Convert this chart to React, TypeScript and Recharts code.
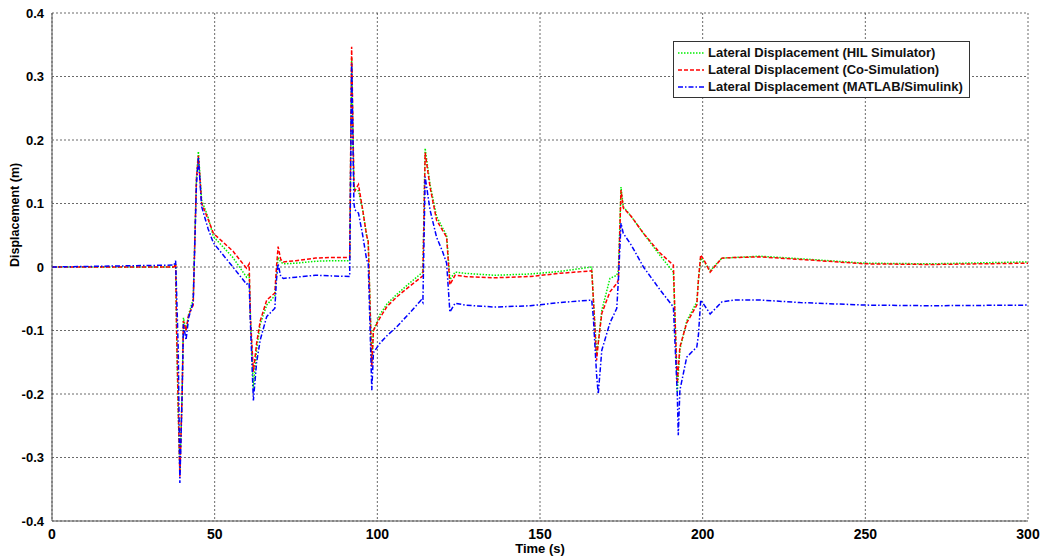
import { LineChart, Line, XAxis, YAxis, CartesianGrid } from "recharts";

// time (s)
const time = [
  0, 37.5, 38, 38.3, 38.8, 39.3, 40, 40.4, 41.2, 42, 43.4, 44.4, 45, 46, 48, 49.6, 55.6, 59.8, 60.6, 61,
  61.9, 62.9, 64, 66, 68.5, 69, 69.5, 70.3, 71.1, 75, 81, 86, 91.5, 92.1, 92.8, 93.1, 94.2, 95.5, 96.7, 97.2,
  98.3, 98.8, 100.8, 103, 106, 110, 113.5, 114, 114.7, 116.2, 118.2, 120, 121.3, 122.3, 123.9, 127, 136, 147, 156, 165.9,
  166.4, 167.4, 167.9, 169, 171.5, 173.6, 174.1, 174.9, 175.6, 178, 181.8, 186.9, 191, 191.5, 192.2, 192.5, 193, 195.1, 198.2, 198.7,
  199.4, 200.5, 202.3, 205.9, 210, 217.6, 230, 250, 270, 300,
];

// Lateral Displacement (Co-Simulation)
const coSim = [
  0, 0, 0.005, -0.1, -0.22, -0.33, -0.2, -0.085, -0.1, -0.075, -0.06, 0.14, 0.175, 0.1, 0.075, 0.053, 0.025, -0.002, 0.005, -0.08,
  -0.165, -0.12, -0.085, -0.052, -0.041, 0, 0.032, 0.012, 0.008, 0.01, 0.014, 0.015, 0.015, 0.347, 0.13, 0.12, 0.13, 0.09, 0.05, 0.04,
  -0.157, -0.1, -0.08, -0.062, -0.047, -0.03, -0.016, -0.014, 0.18, 0.126, 0.074, 0.058, 0.047, -0.028, -0.013, -0.015, -0.017, -0.015, -0.01, -0.006,
  -0.05, -0.147, -0.12, -0.073, -0.039, -0.026, -0.02, 0.121, 0.093, 0.08, 0.053, 0.022, 0.003, -0.08, -0.183, -0.16, -0.126, -0.088, -0.06, -0.02,
  0.019, 0.01, -0.008, 0.014, 0.015, 0.016, 0.012, 0.005, 0.004, 0.006,
];

// Lateral Displacement (HIL Simulator)
const hil = [
  0, 0, 0.005, -0.1, -0.23, -0.32, -0.2, -0.08, -0.1, -0.075, -0.05, 0.14, 0.182, 0.105, 0.078, 0.048, 0.015, -0.016, -0.01, -0.08,
  -0.19, -0.13, -0.09, -0.06, -0.045, -0.01, 0.015, 0.008, 0.005, 0.006, 0.009, 0.01, 0.01, 0.33, 0.13, 0.12, 0.12, 0.09, 0.05, 0.04,
  -0.15, -0.1, -0.075, -0.058, -0.043, -0.025, -0.01, -0.008, 0.187, 0.13, 0.08, 0.062, 0.05, -0.02, -0.008, -0.01, -0.013, -0.011, -0.007, 0,
  -0.05, -0.135, -0.12, -0.068, -0.018, -0.013, -0.005, 0.126, 0.095, 0.08, 0.053, 0.018, -0.008, -0.08, -0.198, -0.17, -0.13, -0.085, -0.055, -0.02,
  0.014, 0.008, -0.006, 0.014, 0.015, 0.017, 0.013, 0.006, 0.005, 0.008,
];

// Lateral Displacement (MATLAB/Simulink)
const matlab = [
  0, 0.003, 0.01, -0.04, -0.13, -0.34, -0.2, -0.09, -0.115, -0.08, -0.055, 0.13, 0.172, 0.095, 0.06, 0.038, 0, -0.027, -0.025, -0.09,
  -0.21, -0.15, -0.115, -0.078, -0.065, -0.02, 0.005, -0.015, -0.018, -0.016, -0.013, -0.014, -0.015, 0.32, 0.1, 0.09, 0.085, 0.05, 0.012, 0.005,
  -0.194, -0.135, -0.12, -0.108, -0.094, -0.072, -0.052, -0.056, 0.142, 0.09, 0.047, 0.025, 0.006, -0.071, -0.057, -0.06, -0.063, -0.061, -0.056, -0.052,
  -0.08, -0.17, -0.2, -0.131, -0.088, -0.065, -0.02, 0.069, 0.053, 0.035, 0, -0.036, -0.063, -0.12, -0.2, -0.265, -0.194, -0.142, -0.126, -0.107,
  -0.052, -0.06, -0.074, -0.055, -0.052, -0.052, -0.056, -0.06, -0.061, -0.06,
];

const xTicks = [0, 50, 100, 150, 200, 250, 300];
const yTicks = [-0.4, -0.3, -0.2, -0.1, 0, 0.1, 0.2, 0.3, 0.4];

const series = [
  { key: "hil", name: "Lateral Displacement (HIL Simulator)", color: "#00ee00", dash: "1.5 1.5" },
  { key: "coSim", name: "Lateral Displacement (Co-Simulation)", color: "#ff0000", dash: "4 2" },
  { key: "matlab", name: "Lateral Displacement (MATLAB/Simulink)", color: "#0000ff", dash: "5 2 1.5 2" },
];

const data = time.map((t, i) => ({ t, hil: hil[i], coSim: coSim[i], matlab: matlab[i] }));

const font = "'Liberation Sans', Arial, sans-serif";
const narrow = "'Liberation Sans Narrow', 'Liberation Sans', Arial, sans-serif";

function Legend() {
  return (
    <div
      style={{
        position: "absolute", left: 673, top: 41, width: 297, height: 57,
        border: "1px solid #333", background: "#fff", boxSizing: "border-box",
        fontFamily: font, fontWeight: "bold", fontSize: 13, color: "#111",
        padding: "2px 0 0 4px",
      }}
    >
      {series.map((s) => (
        <div key={s.key} style={{ display: "flex", alignItems: "center", height: 17 }}>
          <svg width={26} height={6} style={{ marginRight: 4 }}>
            <line x1={0} y1={3} x2={26} y2={3} stroke={s.color} strokeWidth={1.5} strokeDasharray={s.dash} />
          </svg>
          <span>{s.name}</span>
        </div>
      ))}
    </div>
  );
}

export default function App() {
  return (
    <div style={{ position: "absolute", left: 0, top: 0, width: 1043, height: 556, background: "#fff" }}>
      <LineChart width={1043} height={556} data={data} margin={{ top: 13, right: 15, left: 12, bottom: 15 }}>
        <CartesianGrid stroke="#444" strokeDasharray="2 2" strokeWidth={0.8} />
        <XAxis
          dataKey="t" type="number" domain={[0, 300]} ticks={xTicks} height={20}
          stroke="#555" tickLine={false} allowDataOverflow
          tick={{ fontSize: 14, fontWeight: "bold", fill: "#000", fontFamily: narrow }}
          label={{ value: "Time (s)", position: "insideBottom", offset: -12, fontSize: 13, fontWeight: "bold", fill: "#000", fontFamily: narrow }}
        />
        <XAxis xAxisId="top" dataKey="t" type="number" domain={[0, 300]} orientation="top" height={0} tick={false} tickLine={false} stroke="#555" />
        <YAxis
          type="number" domain={[-0.4, 0.4]} ticks={yTicks} width={40} stroke="#555" tickLine={false}
          allowDataOverflow
          tickFormatter={(v: number) => (Math.abs(v) < 1e-9 ? "0" : String(Math.round(v * 10) / 10))}
          tick={{ fontSize: 13, fontWeight: "bold", fill: "#000", fontFamily: font }}
          label={{ value: "Displacement (m)", angle: -90, position: "insideLeft", offset: 3, fontSize: 12.5, fontWeight: "bold", fill: "#000", fontFamily: font }}
        />
        <YAxis yAxisId="right" type="number" domain={[-0.4, 0.4]} orientation="right" width={0} tick={false} tickLine={false} stroke="#555" />
        {series.map((s) => (
          <Line
            key={s.key} dataKey={s.key} name={s.name} type="linear" stroke={s.color}
            strokeWidth={1.5} strokeDasharray={s.dash} dot={false} isAnimationActive={false}
          />
        ))}
      </LineChart>
      <Legend />
    </div>
  );
}
